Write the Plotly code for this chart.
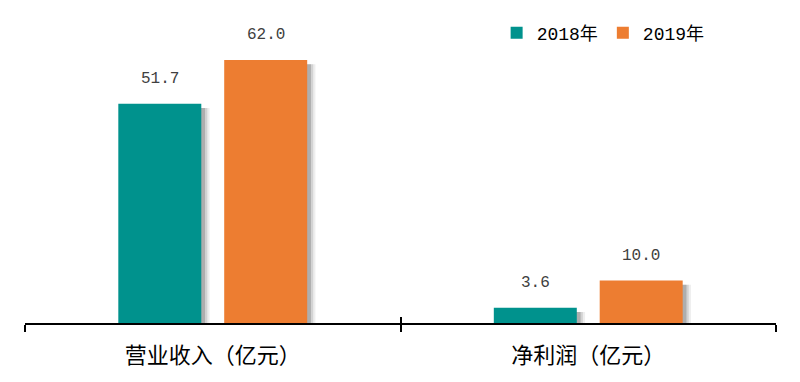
import plotly.graph_objects as go

categories = ["营业收入（亿元）", "净利润（亿元）"]
series_names = ["2018年", "2019年"]
values_2018 = [51.7, 3.6]
values_2019 = [62.0, 10.0]
colors = ["#00928D", "#ED7D31"]

x_pos = [i + 0.5 for i in range(len(categories))]
bar_w = 0.221
offsets = [-0.141 - bar_w / 2, 0.141 - bar_w / 2]
series = [values_2018, values_2019]

fig = go.Figure()
# shadows
for s, off in zip(series, offsets):
    for k, (dx, op) in enumerate([(0.022, 0.10), (0.016, 0.18), (0.010, 0.30)]):
        fig.add_trace(go.Bar(x=x_pos, y=[v - 1.0 for v in s], offset=off + dx, width=bar_w,
                             marker=dict(color=f"rgba(90,90,90,{op})", line=dict(width=0)),
                             showlegend=False, hoverinfo="skip"))
for name, s, off, c in zip(series_names, series, offsets, colors):
    fig.add_trace(go.Bar(x=x_pos, y=s, offset=off, width=bar_w, name=name,
                         marker=dict(color=c, line=dict(width=0))))
    for xp, v in zip(x_pos, s):
        fig.add_annotation(x=xp + off + bar_w / 2, y=v, text=f"{v:.1f}", showarrow=False,
                           yshift=25, font=dict(family="Liberation Mono", size=16, color="#404040"))

fig.update_layout(
    width=800, height=382, margin=dict(l=25, r=24, t=0, b=59),
    paper_bgcolor="white", plot_bgcolor="white", barmode="overlay",
    showlegend=True,
    legend=dict(orientation="h", x=0.628, y=0.898, xanchor="left", yanchor="middle",
                font=dict(family="Liberation Mono, Noto Sans CJK SC", size=18, color="#000"),
                itemwidth=30, traceorder="normal", bgcolor="rgba(0,0,0,0)", tracegroupgap=0),
    xaxis=dict(range=[0, 2], tickmode="array", tickvals=x_pos, ticktext=categories, ticks="",
               showline=True, linecolor="black", linewidth=1.5, showgrid=False, zeroline=False,
               ticklabelstandoff=12,
               tickfont=dict(family="Noto Sans CJK SC", size=22, color="#000"),
               minor=dict(tickmode="array", tickvals=[0, 1, 2], ticks="outside", ticklen=7,
                          tickcolor="black", tickwidth=1.5, showgrid=False)),
    xaxis2=dict(range=[0, 2], overlaying="x", anchor="y", side="bottom", tickmode="array",
                tickvals=[0, 1, 2], ticks="inside", ticklen=6, tickcolor="black", tickwidth=1.5,
                showticklabels=False, showgrid=False, zeroline=False, showline=False),
    yaxis=dict(range=[0, 76.14], visible=False),
)
fig.add_trace(go.Scatter(x=[0], y=[0], xaxis="x2", mode="markers", marker=dict(opacity=0),
                         showlegend=False, hoverinfo="skip"))
fig.write_html("out.html")
